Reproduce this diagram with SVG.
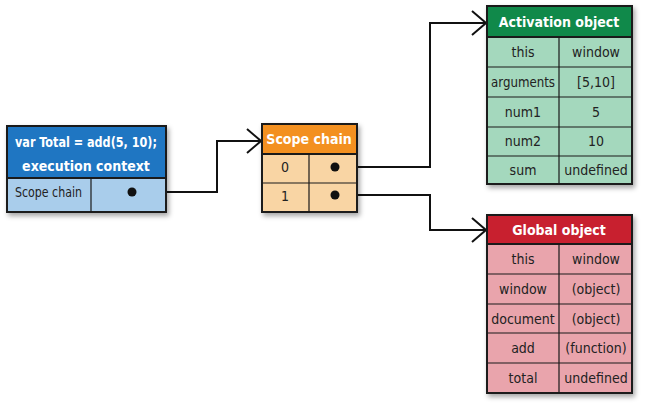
<svg xmlns="http://www.w3.org/2000/svg" width="645" height="407" viewBox="0 0 645 407">
<defs>
<filter id="sh" x="-10%" y="-10%" width="130%" height="130%">
<feDropShadow dx="2" dy="3" stdDeviation="2.5" flood-color="#000" flood-opacity="0.35"/>
</filter>
<marker id="arr" viewBox="0 0 16 26" refX="15" refY="13" markerWidth="16" markerHeight="26" markerUnits="userSpaceOnUse" orient="auto">
<path d="M1,1 L15,13 L1,25" fill="none" stroke="#111" stroke-width="2"/>
</marker>
</defs>
<style>
text{font-family:"DejaVu Sans Condensed","DejaVu Sans","Liberation Sans",sans-serif;font-stretch:condensed;}
.h{fill:#fff;font-weight:bold;font-size:14px;text-anchor:middle;}
.t{fill:#222;font-size:14px;text-anchor:middle;}
.b{stroke:#1a1a1a;stroke-width:2;}
.g{stroke:#1a1a1a;stroke-width:1.2;fill:none;}
.c{fill:none;stroke:#111;stroke-width:2;}
</style>
<g id="connectors">
<path class="c" d="M132,192 H217 V141 H261" marker-end="url(#arr)"/>
<path class="c" d="M335,167 H430 V23 H486" marker-end="url(#arr)"/>
<path class="c" d="M335,195 H430 V230 H486" marker-end="url(#arr)"/>
</g>
<g id="exec-context">
<rect x="7" y="126" width="159" height="86" fill="#a9cdeb" class="b" filter="url(#sh)"/>
<rect x="7" y="126" width="159" height="52" fill="#1f76c2" class="b"/>
<line class="g" x1="91" y1="178" x2="91" y2="212"/>
<text class="h" x="86" y="147" textLength="142" lengthAdjust="spacingAndGlyphs">var Total = add(5, 10);</text>
<text class="h" x="86" y="171">execution context</text>
<text class="t" x="15" y="197" style="text-anchor:start" textLength="67" lengthAdjust="spacingAndGlyphs">Scope chain</text>
<circle cx="132" cy="192" r="4.5" fill="#111"/>
</g>
<g id="scope-chain">
<rect x="262" y="124" width="95" height="88" fill="#f9d5a4" class="b" filter="url(#sh)"/>
<rect x="262" y="124" width="95" height="30" fill="#f39020" class="b"/>
<line class="g" x1="262" y1="183" x2="357" y2="183"/>
<line class="g" x1="309" y1="154" x2="309" y2="212"/>
<text class="h" x="309" y="144">Scope chain</text>
<text class="t" x="285" y="172">0</text>
<text class="t" x="285" y="201">1</text>
<circle cx="335" cy="167" r="4.5" fill="#111"/>
<circle cx="335" cy="195" r="4.5" fill="#111"/>
</g>
<g id="activation-object">
<rect x="487" y="6" width="145" height="178" fill="#a4d8bd" class="b" filter="url(#sh)"/>
<rect x="487" y="6" width="145" height="31" fill="#10894a" class="b"/>
<path class="g" d="M487,67 H632 M487,97 H632 M487,127 H632 M487,156 H632 M559,37 V184"/>
<text class="h" x="559" y="27">Activation object</text>
<text class="t" x="523" y="57">this</text><text class="t" x="596" y="57">window</text>
<text class="t" x="523" y="87" textLength="64" lengthAdjust="spacingAndGlyphs">arguments</text><text class="t" x="596" y="87">[5,10]</text>
<text class="t" x="523" y="117">num1</text><text class="t" x="596" y="117">5</text>
<text class="t" x="523" y="146">num2</text><text class="t" x="596" y="146">10</text>
<text class="t" x="523" y="175">sum</text><text class="t" x="596" y="175">undefined</text>
</g>
<g id="global-object">
<rect x="487" y="215" width="145" height="178" fill="#e9a4ac" class="b" filter="url(#sh)"/>
<rect x="487" y="215" width="145" height="29" fill="#c8202f" class="b"/>
<path class="g" d="M487,274 H632 M487,304 H632 M487,333 H632 M487,363 H632 M559,244 V393"/>
<text class="h" x="559" y="235">Global object</text>
<text class="t" x="523" y="264">this</text><text class="t" x="596" y="264">window</text>
<text class="t" x="523" y="294">window</text><text class="t" x="596" y="294">(object)</text>
<text class="t" x="523" y="324">document</text><text class="t" x="596" y="324">(object)</text>
<text class="t" x="523" y="353">add</text><text class="t" x="596" y="353">(function)</text>
<text class="t" x="523" y="383">total</text><text class="t" x="596" y="383">undefined</text>
</g>
</svg>
